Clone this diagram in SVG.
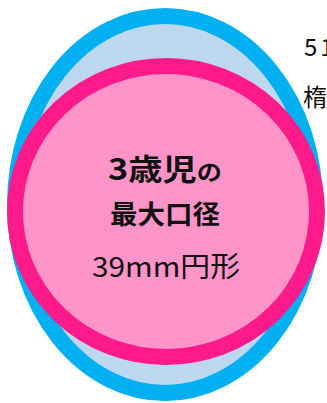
<svg xmlns="http://www.w3.org/2000/svg" width="327" height="403" viewBox="0 0 327 403">
  <style>
    .t { font-family: "Noto Sans CJK JP", "Noto Sans", sans-serif; fill: #111111; }
    .b { font-weight: bold; }
  </style>
  <rect width="327" height="403" fill="#ffffff"/>
  <g id="oval-5yr">
    <ellipse cx="165" cy="204.5" rx="150" ry="188.5" fill="#BDD7EE" stroke="#00B0F0" stroke-width="16"/>
  </g>
  <g id="circle-3yr">
    <ellipse cx="166" cy="211.5" rx="151" ry="145.5" fill="#FF94C8" stroke="#FF1A8C" stroke-width="16"/>
    <text class="t" x="108" y="180" textLength="114" lengthAdjust="spacingAndGlyphs"><tspan class="b" font-size="30">3歳児</tspan><tspan font-size="22" class="b">の</tspan></text>
    <text class="t b" x="110" y="224" font-size="26" textLength="110" lengthAdjust="spacingAndGlyphs">最大口径</text>
    <text class="t" x="92" y="277" font-size="28" textLength="148" lengthAdjust="spacingAndGlyphs">39mm円形</text>
  </g>
  <g id="label-5yr">
    <text class="t" x="304" y="56" font-size="24" letter-spacing="3">51</text>
    <text class="t" x="303" y="106" font-size="24">楕</text>
  </g>
</svg>
